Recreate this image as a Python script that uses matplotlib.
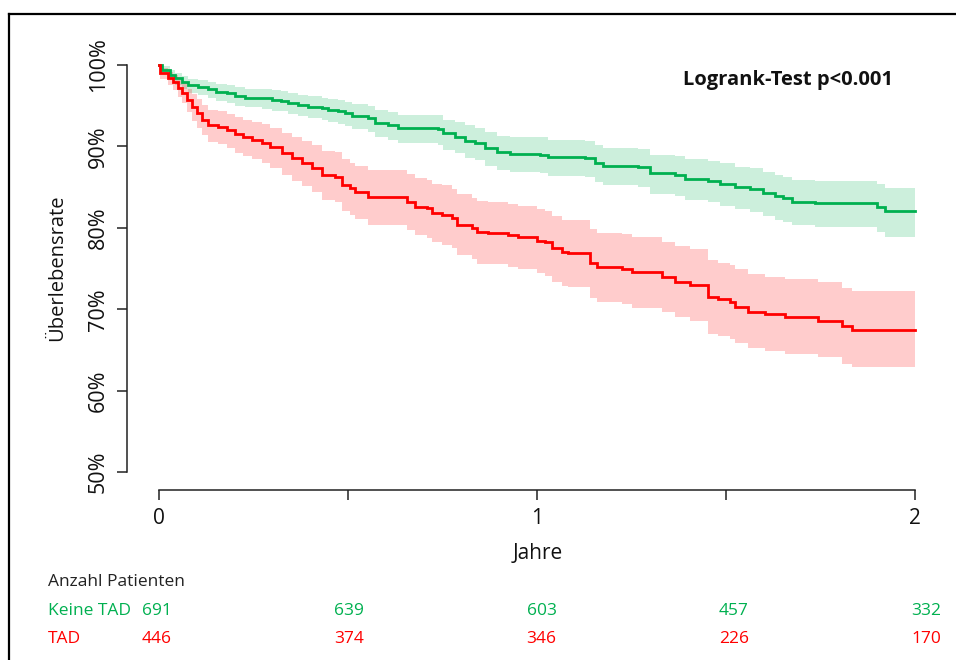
import matplotlib
matplotlib.use("Agg")
import matplotlib.pyplot as plt
from matplotlib.lines import Line2D
import matplotlib.transforms as mtransforms

plt.rcParams['font.family'] = ['Open Sans', 'DejaVu Sans']

# ---------------- data ----------------
green_t = [0, 0.007, 0.029, 0.042, 0.06, 0.078, 0.104, 0.13, 0.152, 0.179,
           0.201, 0.228, 0.272, 0.298, 0.324, 0.342, 0.368, 0.395, 0.43, 0.448,
           0.474, 0.492, 0.51, 0.553, 0.571, 0.606, 0.632, 0.738, 0.751, 0.783,
           0.809, 0.836, 0.862, 0.894, 0.929, 1.008, 1.03, 1.127, 1.153, 1.175,
           1.267, 1.30, 1.365, 1.392, 1.452, 1.484, 1.524, 1.563, 1.598, 1.63,
           1.651, 1.675, 1.735, 1.90, 1.92]
green_s = [100, 99.4, 98.8, 98.4, 97.95, 97.5, 97.3, 97.0, 96.7, 96.5,
           96.2, 96.0, 95.9, 95.7, 95.6, 95.3, 95.1, 94.9, 94.7, 94.5,
           94.3, 94.1, 93.7, 93.5, 92.9, 92.6, 92.2, 92.1, 91.6, 91.2,
           90.7, 90.4, 89.8, 89.3, 89.1, 89.0, 88.7, 88.6, 88.0, 87.6,
           87.5, 86.7, 86.5, 86.0, 85.8, 85.4, 85.0, 84.8, 84.3, 83.9,
           83.6, 83.2, 83.1, 82.6, 82.1]
green_lo = [100, 98.9, 98.1, 97.6, 97.1, 96.6, 96.3, 95.9, 95.6, 95.3,
            95.0, 94.8, 94.6, 94.4, 94.3, 94.0, 93.7, 93.5, 93.3, 93.0,
            92.8, 92.5, 92.1, 91.8, 91.1, 90.8, 90.4, 90.2, 89.6, 89.2,
            88.6, 88.3, 87.6, 87.1, 86.8, 86.7, 86.4, 86.3, 85.6, 85.2,
            85.0, 84.2, 83.9, 83.4, 83.2, 82.7, 82.3, 82.0, 81.5, 81.0,
            80.7, 80.3, 80.1, 79.5, 78.9]
green_hi = [100, 99.9, 99.4, 99.0, 98.7, 98.3, 98.2, 97.9, 97.7, 97.5,
            97.3, 97.1, 97.0, 96.9, 96.8, 96.5, 96.3, 96.2, 96.0, 95.8,
            95.7, 95.5, 95.2, 95.0, 94.5, 94.2, 93.9, 93.8, 93.3, 93.0,
            92.6, 92.3, 91.8, 91.3, 91.2, 91.1, 90.8, 90.7, 90.2, 89.8,
            89.7, 89.0, 88.8, 88.4, 88.2, 87.9, 87.5, 87.3, 86.9, 86.5,
            86.2, 85.9, 85.8, 85.4, 84.9]

red_t = [0, 0.003, 0.024, 0.037, 0.05, 0.06, 0.074, 0.087, 0.1, 0.114,
         0.13, 0.156, 0.18, 0.201, 0.222, 0.246, 0.272, 0.294, 0.325, 0.352,
         0.378, 0.405, 0.431, 0.466, 0.484, 0.505, 0.518, 0.553, 0.656, 0.677,
         0.709, 0.722, 0.749, 0.775, 0.788, 0.828, 0.841, 0.87, 0.923, 0.95,
         1.0, 1.02, 1.04, 1.066, 1.082, 1.14, 1.16, 1.225, 1.25, 1.33,
         1.365, 1.405, 1.452, 1.479, 1.51, 1.524, 1.558, 1.603, 1.656, 1.743,
         1.807, 1.833]
red_s = [100, 99.0, 98.4, 97.9, 97.2, 96.6, 95.7, 94.8, 94.1, 93.3,
         92.6, 92.4, 92.0, 91.5, 91.1, 90.8, 90.4, 89.9, 89.2, 88.6,
         88.0, 87.4, 86.5, 86.3, 85.3, 84.9, 84.4, 83.8, 83.2, 82.6,
         82.4, 81.8, 81.6, 81.2, 80.4, 80.0, 79.5, 79.4, 79.1, 78.9,
         78.4, 78.2, 77.5, 77.0, 76.9, 75.7, 75.2, 75.0, 74.6, 74.0,
         73.4, 73.0, 71.5, 71.2, 70.9, 70.3, 69.7, 69.4, 69.0, 68.6,
         67.9, 67.5]
red_lo = [100, 98.3, 97.5, 96.9, 96.1, 95.3, 94.2, 93.1, 92.3, 91.4,
          90.6, 90.3, 89.8, 89.2, 88.8, 88.4, 87.9, 87.3, 86.5, 85.8,
          85.1, 84.4, 83.4, 83.2, 82.1, 81.6, 81.1, 80.4, 79.7, 79.1,
          78.8, 78.2, 77.9, 77.5, 76.6, 76.2, 75.6, 75.5, 75.2, 74.9,
          74.4, 74.1, 73.4, 72.8, 72.7, 71.4, 70.9, 70.7, 70.2, 69.6,
          69.0, 68.6, 67.0, 66.7, 66.4, 65.8, 65.2, 64.9, 64.5, 64.1,
          63.3, 62.9]
red_hi = [100, 99.6, 99.2, 98.8, 98.3, 97.8, 97.1, 96.4, 95.8, 95.1,
          94.5, 94.4, 94.0, 93.6, 93.3, 93.0, 92.7, 92.3, 91.7, 91.2,
          90.7, 90.2, 89.4, 89.3, 88.4, 88.0, 87.6, 87.1, 86.6, 86.1,
          85.9, 85.4, 85.2, 84.8, 84.1, 83.7, 83.3, 83.2, 82.9, 82.7,
          82.3, 82.1, 81.5, 81.0, 80.9, 79.9, 79.4, 79.2, 78.9, 78.3,
          77.8, 77.4, 76.0, 75.7, 75.4, 74.9, 74.3, 74.0, 73.7, 73.3,
          72.6, 72.2]

t_end = 2.0
x_ticks = [0, 0.5, 1, 1.5, 2]
x_ticklabels = ['0', '', '1', '', '2']
y_ticks = [50, 60, 70, 80, 90, 100]
y_ticklabels = ['50%', '60%', '70%', '80%', '90%', '100%']

risk_times = [0, 0.5, 1, 1.5, 2]
risk_green = [691, 639, 603, 457, 332]
risk_red = [446, 374, 346, 226, 170]
group_names = ['Keine TAD', 'TAD']

GREEN = '#00B050'
RED = '#FF0000'

# ---------------- figure ----------------
W, H = 956, 660
fig = plt.figure(figsize=(W / 100, H / 100), dpi=100)
ax = fig.add_axes([159 / W, 1 - 472 / H, (915 - 159) / W, (472 - 65) / H])
ax.set_xlim(0, 2)
ax.set_ylim(50, 100)


def band(t, lo, hi, color):
    tt = t + [t_end]
    ax.fill_between(tt, lo + [lo[-1]], hi + [hi[-1]], step='post',
                    color=color, alpha=0.2, linewidth=0, clip_on=False)


def curve(t, s, color):
    ax.step(t + [t_end], s + [s[-1]], where='post', color=color, lw=2.0,
            clip_on=False, solid_joinstyle='miter')


band(green_t, green_lo, green_hi, GREEN)
band(red_t, red_lo, red_hi, RED)
curve(green_t, green_s, GREEN)
curve(red_t, red_s, RED)

# axes styling (R-like detached axes)
for side in ('top', 'right'):
    ax.spines[side].set_visible(False)
axis_col = '#222222'
ax.spines['left'].set_position(('outward', 32 * 0.72))
ax.spines['bottom'].set_position(('outward', 18 * 0.72))
ax.spines['left'].set_bounds(50, 100)
ax.spines['bottom'].set_bounds(0, 2)
for side in ('left', 'bottom'):
    ax.spines[side].set_linewidth(1.1)
    ax.spines[side].set_color(axis_col)

ax.set_xticks(x_ticks)
ax.set_xticklabels(x_ticklabels, fontsize=15)
ax.set_yticks(y_ticks)
ax.set_yticklabels(y_ticklabels, fontsize=15.5, rotation=90, va='center')
ax.tick_params(axis='both', direction='out', length=7.2, width=1.1,
               color=axis_col, labelcolor='#111111')
ax.tick_params(axis='x', pad=6)
ax.tick_params(axis='y', pad=6)

# labels
fig.text(57 / W, 1 - 268 / H, 'Überlebensrate', rotation=90, ha='center',
         va='center', fontsize=14.5, color='#111111')
fig.text(538 / W, 1 - 559 / H, 'Jahre', ha='center', va='baseline',
         fontsize=15, color='#111111')
fig.text(893 / W, 1 - 85 / H, 'Logrank-Test p<0.001', ha='right',
         va='baseline', fontsize=14.5, fontweight='bold', color='#111111')

# number at risk table
fig.text(48 / W, 1 - 586 / H, 'Anzahl Patienten', ha='left', va='baseline',
         fontsize=12.5, color='#222222')
fig.text(48 / W, 1 - 615 / H, group_names[0], ha='left', va='baseline',
         fontsize=12.5, color=GREEN)
fig.text(48 / W, 1 - 643 / H, group_names[1], ha='left', va='baseline',
         fontsize=12.5, color=RED)
trans = mtransforms.blended_transform_factory(ax.transData, fig.transFigure)
for tt, ng, nr in zip(risk_times, risk_green, risk_red):
    xp = tt * 1.017 - 0.005
    ax.text(xp, 1 - 615 / H, str(ng), transform=trans, ha='center',
            va='baseline', fontsize=12.5, color=GREEN, clip_on=False)
    ax.text(xp, 1 - 643 / H, str(nr), transform=trans, ha='center',
            va='baseline', fontsize=12.5, color=RED, clip_on=False)

# outer frame (clipped by image at right/bottom)
fig.add_artist(Line2D([9 / W, 1.0], [1 - 14 / H, 1 - 14 / H],
                      transform=fig.transFigure, color='black', lw=1.6))
fig.add_artist(Line2D([9 / W, 9 / W], [1 - 14 / H, 0.0],
                      transform=fig.transFigure, color='black', lw=1.6))

fig.savefig('out.png', dpi=100)
